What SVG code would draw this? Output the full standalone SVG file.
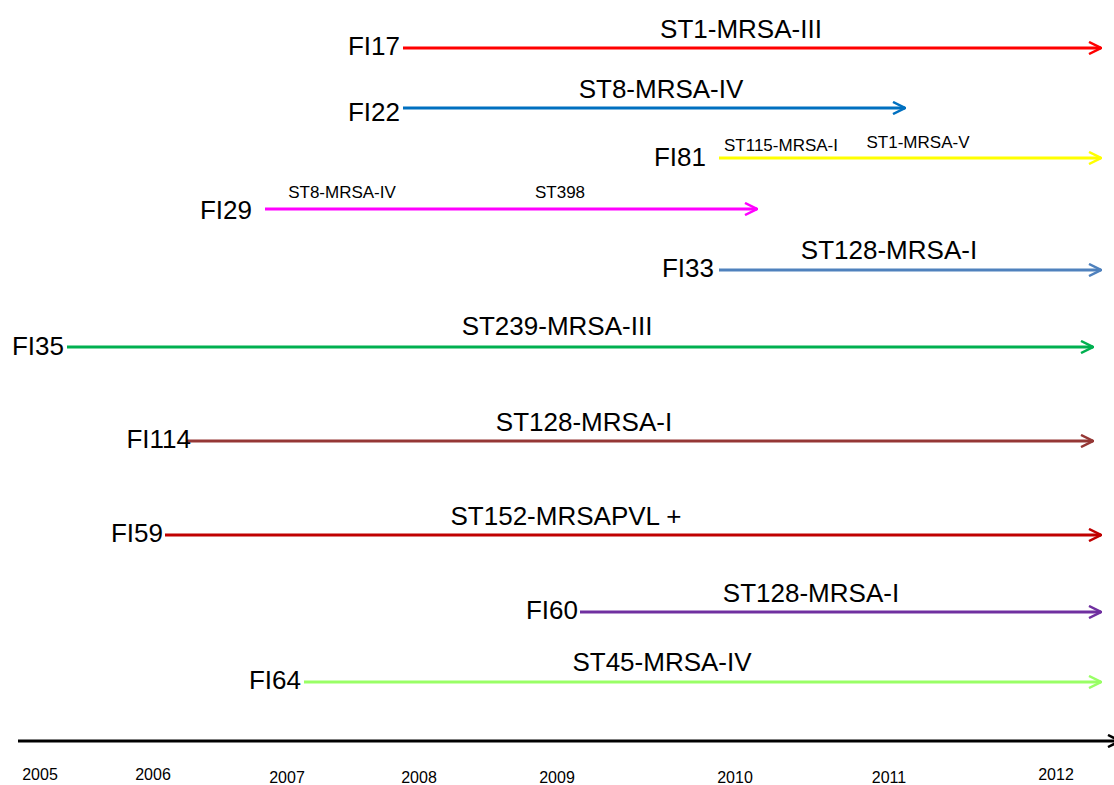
<svg xmlns="http://www.w3.org/2000/svg" width="1114" height="785" viewBox="0 0 1114 785">
<style>
text{font-family:"Liberation Sans",Arial,sans-serif;fill:#000}
.id{font-size:26px;text-anchor:end}
.st{font-size:26px;text-anchor:middle}
.sm{font-size:17px;text-anchor:middle}
.yr{font-size:16px;text-anchor:middle}
.ln{stroke-width:3;fill:none}
</style>
<defs>
<marker id="r" viewBox="0 0 14 14" refX="13" refY="7" markerWidth="14" markerHeight="14" markerUnits="userSpaceOnUse" orient="auto"><path d="M1,1 L13,7 L1,13" fill="none" stroke="#ff0000" stroke-width="2.5"/></marker>
<marker id="b" viewBox="0 0 14 14" refX="13" refY="7" markerWidth="14" markerHeight="14" markerUnits="userSpaceOnUse" orient="auto"><path d="M1,1 L13,7 L1,13" fill="none" stroke="#0070c0" stroke-width="2.5"/></marker>
<marker id="y" viewBox="0 0 14 14" refX="13" refY="7" markerWidth="14" markerHeight="14" markerUnits="userSpaceOnUse" orient="auto"><path d="M1,1 L13,7 L1,13" fill="none" stroke="#ffff00" stroke-width="2.5"/></marker>
<marker id="m" viewBox="0 0 14 14" refX="13" refY="7" markerWidth="14" markerHeight="14" markerUnits="userSpaceOnUse" orient="auto"><path d="M1,1 L13,7 L1,13" fill="none" stroke="#ff00ff" stroke-width="2.5"/></marker>
<marker id="s" viewBox="0 0 14 14" refX="13" refY="7" markerWidth="14" markerHeight="14" markerUnits="userSpaceOnUse" orient="auto"><path d="M1,1 L13,7 L1,13" fill="none" stroke="#4f81bd" stroke-width="2.5"/></marker>
<marker id="g" viewBox="0 0 14 14" refX="13" refY="7" markerWidth="14" markerHeight="14" markerUnits="userSpaceOnUse" orient="auto"><path d="M1,1 L13,7 L1,13" fill="none" stroke="#00b050" stroke-width="2.5"/></marker>
<marker id="br" viewBox="0 0 14 14" refX="13" refY="7" markerWidth="14" markerHeight="14" markerUnits="userSpaceOnUse" orient="auto"><path d="M1,1 L13,7 L1,13" fill="none" stroke="#953735" stroke-width="2.5"/></marker>
<marker id="dr" viewBox="0 0 14 14" refX="13" refY="7" markerWidth="14" markerHeight="14" markerUnits="userSpaceOnUse" orient="auto"><path d="M1,1 L13,7 L1,13" fill="none" stroke="#c00000" stroke-width="2.5"/></marker>
<marker id="p" viewBox="0 0 14 14" refX="13" refY="7" markerWidth="14" markerHeight="14" markerUnits="userSpaceOnUse" orient="auto"><path d="M1,1 L13,7 L1,13" fill="none" stroke="#7030a0" stroke-width="2.5"/></marker>
<marker id="lg" viewBox="0 0 14 14" refX="13" refY="7" markerWidth="14" markerHeight="14" markerUnits="userSpaceOnUse" orient="auto"><path d="M1,1 L13,7 L1,13" fill="none" stroke="#99ff66" stroke-width="2.5"/></marker>
<marker id="k" viewBox="0 0 14 14" refX="13" refY="7" markerWidth="14" markerHeight="14" markerUnits="userSpaceOnUse" orient="auto"><path d="M1,1 L13,7 L1,13" fill="none" stroke="#000" stroke-width="2.5"/></marker>
</defs>
<rect width="1114" height="785" fill="#fff"/>
<g id="connectors">
<line class="ln" x1="403" y1="48" x2="1101" y2="48" stroke="#ff0000" marker-end="url(#r)"/>
<line class="ln" x1="403" y1="108" x2="905" y2="108" stroke="#0070c0" marker-end="url(#b)"/>
<line class="ln" x1="719" y1="158" x2="1101" y2="158" stroke="#ffff00" marker-end="url(#y)"/>
<line class="ln" x1="265" y1="209" x2="757" y2="209" stroke="#ff00ff" marker-end="url(#m)"/>
<line class="ln" x1="719" y1="270" x2="1101" y2="270" stroke="#4f81bd" marker-end="url(#s)"/>
<line class="ln" x1="67" y1="347" x2="1093" y2="347" stroke="#00b050" marker-end="url(#g)"/>
<line class="ln" x1="187" y1="441" x2="1093" y2="441" stroke="#953735" marker-end="url(#br)"/>
<line class="ln" x1="165" y1="535" x2="1101" y2="535" stroke="#c00000" marker-end="url(#dr)"/>
<line class="ln" x1="580" y1="612" x2="1101" y2="612" stroke="#7030a0" marker-end="url(#p)"/>
<line class="ln" x1="304" y1="682" x2="1101" y2="682" stroke="#99ff66" marker-end="url(#lg)"/>
<line class="ln" x1="18" y1="741" x2="1120" y2="741" stroke="#000" marker-end="url(#k)"/>
</g>
<g id="FI17"><text class="id" x="400" y="55">FI17</text><text class="st" x="741" y="38">ST1-MRSA-III</text></g>
<g id="FI22"><text class="id" x="400" y="121">FI22</text><text class="st" x="661" y="98">ST8-MRSA-IV</text></g>
<g id="FI81"><text class="id" x="706" y="166">FI81</text><text class="sm" x="781" y="151">ST115-MRSA-I</text><text class="sm" x="918" y="148">ST1-MRSA-V</text></g>
<g id="FI29"><text class="id" x="252" y="219">FI29</text><text class="sm" x="342" y="198">ST8-MRSA-IV</text><text class="sm" x="560" y="198">ST398</text></g>
<g id="FI33"><text class="id" x="714" y="277">FI33</text><text class="st" x="889" y="259">ST128-MRSA-I</text></g>
<g id="FI35"><text class="id" x="64" y="355">FI35</text><text class="st" x="557" y="335">ST239-MRSA-III</text></g>
<g id="FI114"><text class="id" x="191" y="448">FI114</text><text class="st" x="584" y="431">ST128-MRSA-I</text></g>
<g id="FI59"><text class="id" x="163" y="542">FI59</text><text class="st" x="566" y="525">ST152-MRSAPVL +</text></g>
<g id="FI60"><text class="id" x="578" y="619">FI60</text><text class="st" x="811" y="602">ST128-MRSA-I</text></g>
<g id="FI64"><text class="id" x="301" y="689">FI64</text><text class="st" x="662" y="671">ST45-MRSA-IV</text></g>
<g id="axis">
<text class="yr" x="40" y="780">2005</text>
<text class="yr" x="153" y="780">2006</text>
<text class="yr" x="287" y="783">2007</text>
<text class="yr" x="419" y="783">2008</text>
<text class="yr" x="557" y="783">2009</text>
<text class="yr" x="735" y="783">2010</text>
<text class="yr" x="889" y="783">2011</text>
<text class="yr" x="1056" y="780">2012</text>
</g>
</svg>
